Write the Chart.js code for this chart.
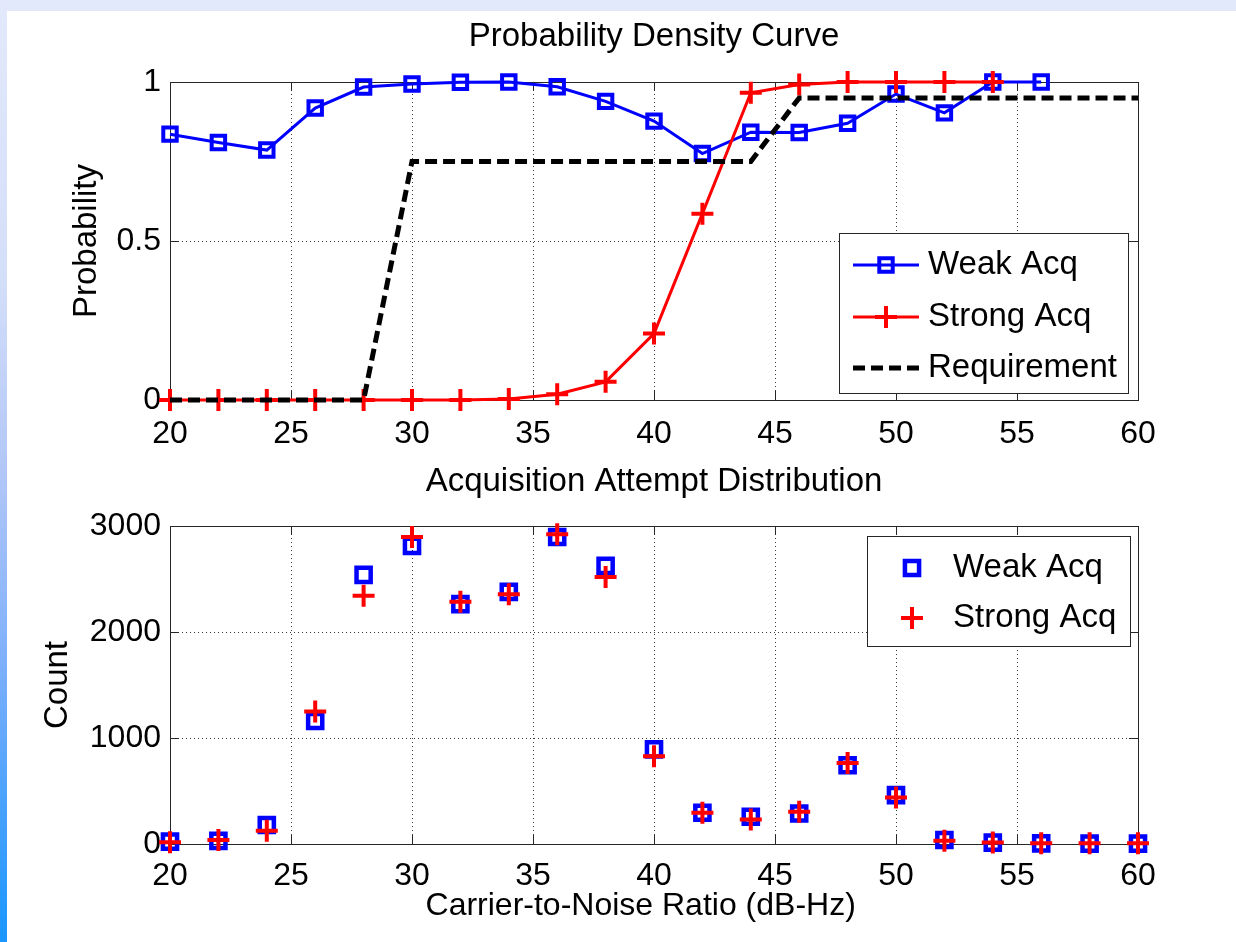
<!DOCTYPE html>
<html lang="en">
<head>
<meta charset="utf-8" />
<title>Probability Density Curve / Acquisition Attempt Distribution</title>
<script src="https://cdn.jsdelivr.net/npm/chart.js@4.4"></script>
<style>
  html,body{margin:0;padding:0;width:1236px;height:942px;overflow:hidden;background:#fff;}
  #topStrip{position:absolute;left:0;top:0;width:1236px;height:11px;background:#e1e9fb;}
  #leftStrip{position:absolute;left:0;top:0;width:7px;height:942px;
    background:linear-gradient(to bottom,#e3e9fb 0%,#d3def9 30%,#b2c7f7 50%,#7fb0fb 70%,#4aa2fd 85%,#1a96ff 100%);}
  canvas{position:absolute;left:0;}
  #probChart{top:0;}
  #countChart{top:430px;}
</style>
</head>
<body>
<div id="topStrip"></div>
<div id="leftStrip"></div>
<canvas id="probChart" width="1236" height="470"></canvas>
<canvas id="countChart" width="1236" height="512"></canvas>

<script>
/***** ---------- Data ---------- *****/
// top: probability vs C/N0 (dB-Hz)
const weakX    =[20,22,24,26,28,30,32,34,36,38,40,42,44,46,48,50,52,54,56];
const weakProb =[0.836,0.81,0.786,0.918,0.984,0.994,0.999,1.0,0.985,0.939,0.877,0.775,0.842,0.841,0.87,0.962,0.903,1.0,1.0];
const strongX  =[20,22,24,26,28,30,32,34,36,38,40,42,44,46,48,50,52,54];
const strongProb=[0,0,0,0,0,0,0,0.003,0.018,0.057,0.209,0.586,0.966,0.992,1.0,1.0,1.0,1.0];
const reqX     =[20,28,30,44,46,60];
const reqProb  =[0,0,0.75,0.75,0.95,0.95];

// bottom: attempt counts
const cnrX       =[20,22,24,26,28,30,32,34,36,38,40,42,44,46,48,50,52,54,56,58,60];
const weakCount  =[22,30,179,1160,2539,2812,2263,2379,2896,2624,893,295,257,288,743,461,38,13,6,4,4];
const strongCount=[16,38,125,1251,2342,2897,2285,2357,2922,2520,828,295,232,304,765,439,31,13,6,6,6];

const xTicks=[20,25,30,35,40,45,50,55,60];
const probTicks=[0,0.5,1];
const countTicks=[0,1000,2000,3000];

/***** ---------- Helpers ---------- *****/
const FONT='"Liberation Sans", Arial, Helvetica, sans-serif';
Chart.defaults.font.family=FONT;
Chart.defaults.color='#000';

const pts=(xs,ys)=>xs.map((x,i)=>({x,y:ys[i]}));

function drawMarker(ctx,style,x,y,r,color,lw){
  ctx.save();
  ctx.strokeStyle=color;ctx.lineWidth=lw;ctx.setLineDash([]);
  ctx.beginPath();
  if(style==='rect'){const s=r*Math.SQRT1_2;ctx.rect(x-s,y-s,2*s,2*s);}
  else if(style==='cross'){ctx.moveTo(x-r,y);ctx.lineTo(x+r,y);ctx.moveTo(x,y-r);ctx.lineTo(x,y+r);}
  ctx.stroke();
  ctx.restore();
}

// axes box + inward ticks (matlab style), drawn under the data
const boxAxes={
  id:'boxAxes',
  beforeDatasetsDraw(chart){
    const {ctx,chartArea:a,scales:{x,y}}=chart;
    ctx.save();
    ctx.strokeStyle='#262626';ctx.lineWidth=1;ctx.setLineDash([]);
    ctx.strokeRect(Math.round(a.left)+0.5,Math.round(a.top)+0.5,Math.round(a.right-a.left),Math.round(a.bottom-a.top));
    const TL=9;
    ctx.beginPath();
    x.ticks.forEach(t=>{
      const px=Math.round(x.getPixelForValue(t.value))+0.5;
      ctx.moveTo(px,a.bottom);ctx.lineTo(px,a.bottom-TL);
      ctx.moveTo(px,a.top);ctx.lineTo(px,a.top+TL);
    });
    y.ticks.forEach(t=>{
      const py=Math.round(y.getPixelForValue(t.value))+0.5;
      ctx.moveTo(a.left,py);ctx.lineTo(a.left+TL,py);
      ctx.moveTo(a.right,py);ctx.lineTo(a.right-TL,py);
    });
    ctx.stroke();
    ctx.restore();
  }
};

// legend drawn inside the plot, like matlab
const boxLegend={
  id:'boxLegend',
  afterDraw(chart,args,o){
    const {ctx,chartArea:a}=chart;
    const left=a.right-o.right-o.width;
    const top=o.fromBottom!=null? a.bottom-o.fromBottom-o.height : a.top+o.fromTop;
    ctx.save();
    ctx.fillStyle='#fff';
    ctx.fillRect(left,top,o.width,o.height);
    ctx.strokeStyle='#262626';ctx.lineWidth=1;
    ctx.strokeRect(Math.round(left)+0.5,Math.round(top)+0.5,o.width,o.height);
    chart.data.datasets.forEach((ds,i)=>{
      const cy=top+o.rows[i];
      if(ds.showLine!==false){
        ctx.save();
        ctx.strokeStyle=ds.borderColor;ctx.lineWidth=ds.borderWidth;
        ctx.setLineDash(ds.borderDash||[]);
        ctx.beginPath();ctx.moveTo(left+o.lineFrom,cy);ctx.lineTo(left+o.lineTo,cy);ctx.stroke();
        ctx.restore();
      }
      if(ds.pointRadius>0){
        drawMarker(ctx,ds.pointStyle,left+o.marker,cy,ds.pointRadius,ds.pointBorderColor||ds.borderColor,ds.pointBorderWidth);
      }
      ctx.fillStyle='#000';ctx.font='33px '+FONT;
      ctx.textAlign='left';ctx.textBaseline='middle';
      ctx.fillText(ds.label,left+o.text,cy);
    });
    ctx.restore();
  }
};

function xAxis(height,pad,title){
  return {
    type:'linear',min:20,max:60,
    afterBuildTicks:s=>{s.ticks=xTicks.map(v=>({value:v}));},
    ticks:{font:{size:32},padding:pad,maxRotation:0},
    grid:{color:'#3a3a3a',lineWidth:1,drawTicks:false},
    border:{display:false,dash:[1,3]},
    title:title||{display:false},
    afterFit:s=>{s.height=height;}
  };
}

/***** ---------- Top: Probability Density Curve ---------- *****/
new Chart(document.getElementById('probChart'),{
  type:'line',
  data:{datasets:[
    {label:'Weak Acq',data:pts(weakX,weakProb),borderColor:'#0000ff',borderWidth:3,
     pointStyle:'rect',pointRadius:9.5,pointBorderWidth:4,pointBorderColor:'#0000ff',pointBackgroundColor:'rgba(0,0,0,0)',order:2,clip:false},
    {label:'Strong Acq',data:pts(strongX,strongProb),borderColor:'#ff0000',borderWidth:3,
     pointStyle:'cross',pointRadius:11,pointBorderWidth:4,pointBorderColor:'#ff0000',order:1,clip:false},
    {label:'Requirement',data:pts(reqX,reqProb),borderColor:'#000',borderWidth:5,borderDash:[12,6],
     pointRadius:0,order:0,clip:false}
  ]},
  options:{
    responsive:false,animation:false,devicePixelRatio:1,events:[],
    layout:{padding:{left:0,right:98,top:11,bottom:0}},
    elements:{line:{tension:0}},
    scales:{
      x:xAxis(70,15),
      y:{
        min:0,max:1,
        afterBuildTicks:s=>{s.ticks=probTicks.map(v=>({value:v}));},
        ticks:{font:{size:32},padding:9,callback:v=>String(v)},
        grid:{color:'#3a3a3a',lineWidth:1,drawTicks:false},
        border:{display:false,dash:[1,3]},
        title:{display:true,text:'Probability',font:{size:33},padding:{top:66.7,bottom:0}},
        afterFit:s=>{s.width=170;}
      }
    },
    plugins:{
      legend:{display:false},tooltip:{enabled:false},
      title:{display:true,text:'Probability Density Curve',fullSize:false,font:{size:33,weight:'normal'},color:'#000',padding:{top:5.9,bottom:25.5}},
      boxLegend:{right:10,width:289,fromBottom:7,height:160,rows:[32,84,135],lineFrom:14,lineTo:80,marker:47,text:89}
    }
  },
  plugins:[boxAxes,boxLegend]
});

/***** ---------- Bottom: Acquisition Attempt Distribution ---------- *****/
new Chart(document.getElementById('countChart'),{
  type:'scatter',
  data:{datasets:[
    {label:'Weak Acq',data:pts(cnrX,weakCount),showLine:false,borderColor:'#0000ff',
     pointStyle:'rect',pointRadius:10,pointBorderWidth:4.5,pointBorderColor:'#0000ff',pointBackgroundColor:'rgba(0,0,0,0)',order:1,clip:false},
    {label:'Strong Acq',data:pts(cnrX,strongCount),showLine:false,borderColor:'#ff0000',
     pointStyle:'cross',pointRadius:11,pointBorderWidth:4,pointBorderColor:'#ff0000',order:0,clip:false}
  ]},
  options:{
    responsive:false,animation:false,devicePixelRatio:1,events:[],
    layout:{padding:{left:0,right:98,top:0,bottom:0}},
    scales:{
      // trailing spaces nudge the label a bit left of the axis centre, as in the original
      x:xAxis(98,13,{display:true,text:'Carrier-to-Noise Ratio (dB-Hz)   ',font:{size:32},padding:{top:0,bottom:16.5}}),
      y:{
        min:0,max:3000,
        afterBuildTicks:s=>{s.ticks=countTicks.map(v=>({value:v}));},
        ticks:{font:{size:32},padding:9,callback:v=>String(v)},
        grid:{color:'#3a3a3a',lineWidth:1,drawTicks:false},
        border:{display:false,dash:[1,3]},
        title:{display:true,text:'Count',font:{size:33},padding:{top:38.4,bottom:0}},
        afterFit:s=>{s.width=170;}
      }
    },
    plugins:{
      legend:{display:false},tooltip:{enabled:false},
      title:{display:true,text:'Acquisition Attempt Distribution',fullSize:false,font:{size:33,weight:'normal'},color:'#000',padding:{top:31.9,bottom:24.5}},
      boxLegend:{right:8,width:263,fromTop:10,height:110,rows:[32,82],marker:45,text:86}
    }
  },
  plugins:[boxAxes,boxLegend]
});
</script>
</body>
</html>
